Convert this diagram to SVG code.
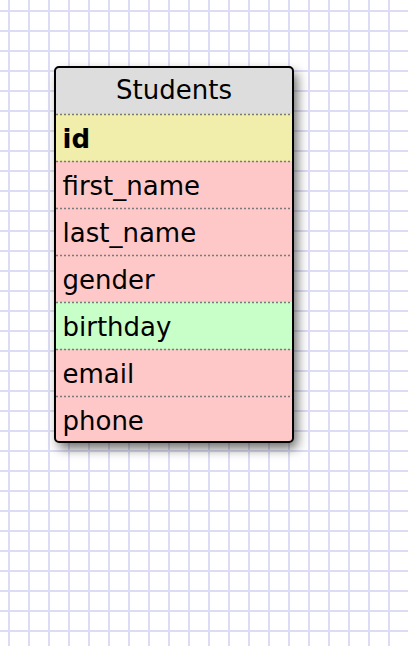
<svg xmlns="http://www.w3.org/2000/svg" width="408" height="646" viewBox="0 0 408 646">
  <defs>
    <pattern id="grid" x="0" y="0" width="20" height="20" patternUnits="userSpaceOnUse">
      <rect x="8" y="0" width="2" height="20" fill="#dcdcf4"/>
      <rect x="0" y="10" width="20" height="2" fill="#dcdcf4"/>
    </pattern>
    <filter id="shadow" x="-20%" y="-20%" width="150%" height="150%">
      <feDropShadow dx="4" dy="6" stdDeviation="6" flood-color="#000" flood-opacity="0.6"/>
    </filter>
    <clipPath id="tableClip">
      <rect x="55" y="67" width="238" height="375" rx="4" ry="4"/>
    </clipPath>
  </defs>
  <style>
    .hdr { font-family: "DejaVu Sans", Verdana, sans-serif; font-size: 26px; fill: #000; text-anchor: middle; }
    .fld { font-family: "DejaVu Sans", Verdana, sans-serif; font-size: 26px; fill: #000; }
    .key { font-weight: bold; }
    .sep { stroke: #7a7a7a; stroke-width: 1.5; stroke-dasharray: 2 2; }
    .pk { fill: #f0eeaa; }
    .pink { fill: #ffc8c8; }
    .green { fill: #c8ffc8; }
  </style>
  <rect x="0" y="0" width="408" height="646" fill="#ffffff"/>
  <rect x="0" y="0" width="408" height="646" fill="url(#grid)"/>

  <g id="Students">
    <rect x="55" y="67" width="238" height="375" rx="4" ry="4" fill="#ffc8c8" filter="url(#shadow)"/>
    <g clip-path="url(#tableClip)">
      <rect x="55" y="67" width="238" height="47" fill="#dddddd"/>
      <rect class="pk" x="55" y="114" width="238" height="47"/>
      <rect class="pink" x="55" y="161" width="238" height="47"/>
      <rect class="pink" x="55" y="208" width="238" height="47"/>
      <rect class="pink" x="55" y="255" width="238" height="47"/>
      <rect class="green" x="55" y="302" width="238" height="47"/>
      <rect class="pink" x="55" y="349" width="238" height="47"/>
      <rect class="pink" x="55" y="396" width="238" height="46"/>
    </g>
    <g id="separators">
      <line class="sep" x1="56" y1="114.5" x2="292" y2="114.5"/>
      <line class="sep" x1="56" y1="161.5" x2="292" y2="161.5"/>
      <line class="sep" x1="56" y1="208.5" x2="292" y2="208.5"/>
      <line class="sep" x1="56" y1="255.5" x2="292" y2="255.5"/>
      <line class="sep" x1="56" y1="302.5" x2="292" y2="302.5"/>
      <line class="sep" x1="56" y1="349.5" x2="292" y2="349.5"/>
      <line class="sep" x1="56" y1="396.5" x2="292" y2="396.5"/>
    </g>
    <rect x="55" y="67" width="238" height="375" rx="4" ry="4" fill="none" stroke="#000" stroke-width="2"/>
    <text class="hdr" x="174" y="99">Students</text>
    <text class="fld key" x="62.5" y="147.7">id</text>
    <text class="fld" x="62.5" y="194.7">first_name</text>
    <text class="fld" x="62.5" y="241.7">last_name</text>
    <text class="fld" x="62.5" y="288.7">gender</text>
    <text class="fld" x="62.5" y="335.7">birthday</text>
    <text class="fld" x="62.5" y="382.7">email</text>
    <text class="fld" x="62.5" y="429.7">phone</text>
  </g>
  <g id="connectors"></g>
</svg>
